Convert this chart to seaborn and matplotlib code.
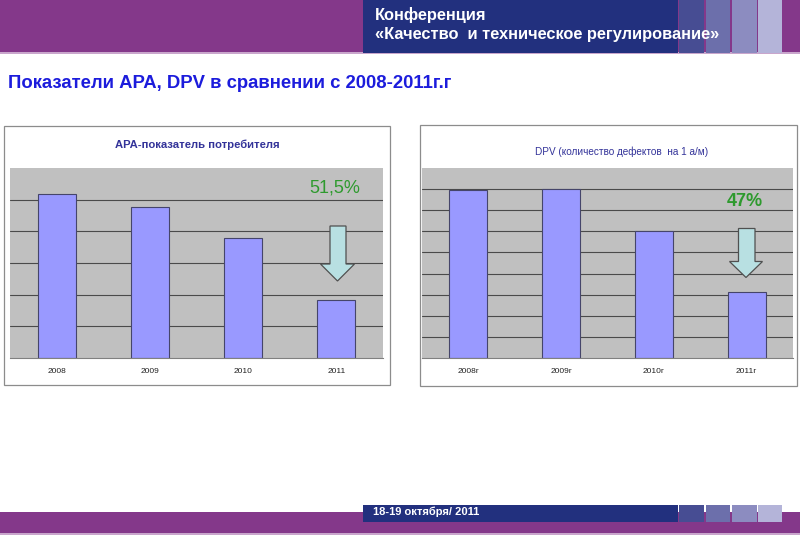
import matplotlib
matplotlib.use("Agg")
import matplotlib.pyplot as plt
from matplotlib.patches import Rectangle, Polygon
import seaborn as sns
import pandas as pd

# ---------------- data ----------------
apa_years = ["2008", "2009", "2010", "2011"]
apa_values = [5.17, 4.78, 3.78, 1.83]
dpv_years = ["2008г", "2009г", "2010г", "2011г"]
dpv_values = [7.96, 8.02, 6.00, 3.15]

main_title = "Показатели АРА, DPV в сравнении с 2008-2011г.г"
apa_title = "АРА-показатель потребителя"
dpv_title = "DPV (количество дефектов  на 1 а/м)"
apa_note = "51,5%"
dpv_note = "47%"
header1 = "Конференция"
header2 = "«Качество  и техническое регулирование»"
footer = "18-19 октября/ 2011"

sns.set_theme(style="white")
plt.rcParams["font.family"] = ["Liberation Sans", "DejaVu Sans"]

W, H = 800, 554
fig = plt.figure(figsize=(8, 5.54), dpi=100)
fig.patch.set_facecolor("white")

def px_axes(x0, y0, x1, y1, z):
    return fig.add_axes([x0 / W, 1 - y1 / H, (x1 - x0) / W, (y1 - y0) / H], zorder=z)

# background decoration layer (pixel coordinates)
bg = fig.add_axes([0, 0, 1, 1], zorder=0)
bg.set_xlim(0, W); bg.set_ylim(H, 0); bg.axis("off")
purple = "#84388a"
navy = "#22307e"
squares = ["#474d93", "#6c6fab", "#8c8cc0", "#b4b4d9"]
# top
bg.add_patch(Rectangle((0, 0), 800, 53, color=purple, lw=0))
bg.add_patch(Rectangle((0, 52), 800, 1.5, color="#c9a6cc", lw=0))
bg.add_patch(Rectangle((363, 0), 315, 53, color=navy, lw=0))
sq_x = [679, 705.5, 732, 757.5]
for c, sx in zip(squares, sq_x):
    bg.add_patch(Rectangle((sx, 0), 24.5, 53, color=c, lw=0))
# bottom
bg.add_patch(Rectangle((0, 512), 800, 22, color=purple, lw=0))
bg.add_patch(Rectangle((0, 533), 800, 1.5, color="#c9a6cc", lw=0))
bg.add_patch(Rectangle((363, 504.5), 315, 17, color=navy, lw=0))
for c, sx in zip(squares, sq_x):
    bg.add_patch(Rectangle((sx, 504.5), 24.5, 17, color=c, lw=0))

bg.text(375, 15, header1, color="white", fontsize=11.8, fontweight="bold", va="center", ha="left")
bg.text(375, 34, header2, color="white", fontsize=11.8, fontweight="bold", va="center", ha="left")
bg.text(373, 512, footer, color="white", fontsize=8, fontweight="bold", va="center", ha="left")
bg.text(8, 83, main_title, color="#1c1cdc", fontsize=13.3, fontweight="bold", va="center", ha="left")

# chart frames
for (fx0, fy0, fx1, fy1) in [(4, 126, 390, 385), (420, 125, 797, 386)]:
    bg.add_patch(Rectangle((fx0, fy0), fx1 - fx0, fy1 - fy0, facecolor="white",
                           edgecolor="#8c8c8c", lw=0.9))
bg.text(197, 145, apa_title, color="#333399", fontsize=8.1, fontweight="bold",
        ha="center", va="center")
bg.text(622, 151.5, dpv_title, color="#333399", fontsize=7.2,
        ha="center", va="center")

def bar_chart(ax, cats, vals, ymax):
    df = pd.DataFrame({"cat": cats, "val": vals})
    sns.barplot(data=df, x="cat", y="val", ax=ax, color="#9999ff", width=0.41,
                edgecolor="#45456a", linewidth=0.8, saturation=1)
    ax.set_facecolor("#c0c0c0")
    ax.set_ylim(0, ymax)
    ax.set_xlim(-0.5, len(cats) - 0.5)
    ax.set_yticks(range(1, ymax))
    ax.yaxis.grid(True, color="#4a4a4a", lw=0.8)
    ax.set_axisbelow(True)
    ax.tick_params(axis="y", length=0, labelleft=False)
    ax.set_xticks([i - 0.5 for i in range(len(cats) + 1)], minor=True)
    ax.tick_params(axis="x", which="major", length=0, labelsize=6, pad=7, colors="#222222")
    ax.tick_params(axis="x", which="minor", length=4, width=0.7, color="#808080", direction="out")
    ax.set_xlabel(""); ax.set_ylabel("")
    for s in ["top", "right", "left"]:
        ax.spines[s].set_visible(False)
    ax.spines["bottom"].set_color("#808080")
    ax.spines["bottom"].set_linewidth(0.8)

ax1 = px_axes(10, 168, 383, 358, 2)
bar_chart(ax1, apa_years, apa_values, 6)
ax1.text(0.871, 0.895, apa_note, transform=ax1.transAxes, color="#2e9a2e", fontsize=13,
         ha="center", va="center")

ax2 = px_axes(422, 168, 793, 358, 2)
bar_chart(ax2, dpv_years, dpv_values, 9)
ax2.text(0.871, 0.824, dpv_note, transform=ax2.transAxes, color="#2e9a2e", fontsize=13,
         fontweight="bold", ha="center", va="center")

# foreground arrows
fg = fig.add_axes([0, 0, 1, 1], zorder=5)
fg.set_xlim(0, W); fg.set_ylim(H, 0); fg.axis("off")
fg.patch.set_alpha(0)

def down_arrow(sx0, sx1, top, hstart, hx0, hx1, tip):
    cx = (hx0 + hx1) / 2
    pts = [(sx0, top), (sx1, top), (sx1, hstart), (hx1, hstart), (cx, tip),
           (hx0, hstart), (sx0, hstart)]
    fg.add_patch(Polygon(pts, closed=True, facecolor="#b8e0e2", edgecolor="#505050", lw=0.9))

down_arrow(330, 346, 226, 264, 320.5, 354.5, 281)
down_arrow(738.5, 755, 228.5, 261.5, 729.5, 762.5, 277.5)

fig.savefig("out.png", dpi=100)
